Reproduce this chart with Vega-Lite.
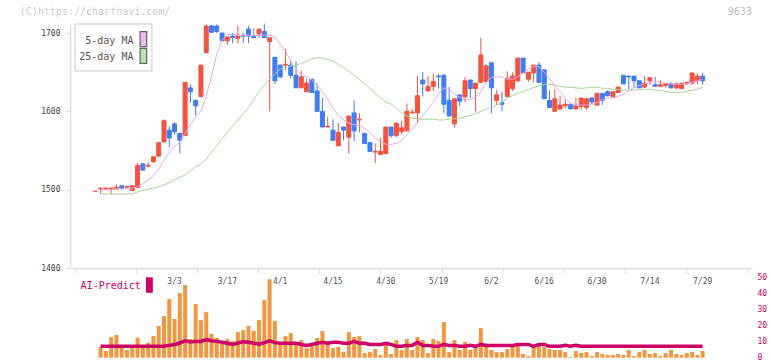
{
  "$schema": "https://vega.github.io/schema/vega-lite/v6.json",
  "width": 682,
  "height": 244,
  "autosize": {"type": "none"},
  "padding": {"left": 70, "top": 24, "right": 20, "bottom": 93},
  "background": "white",
  "config": {"view": {"stroke": null}, "font": "DejaVu Sans Mono", "axis": {"labelFont": "DejaVu Sans Mono"}},
  "datasets": {
    "candles": [
      {"k":0,"o":1498,"h":1498,"l":1498,"c":1498,"v":null,"m5":null,"m25":null,"ai":null},
      {"k":1,"o":1501,"h":1502,"l":1495,"c":1502,"v":6.7,"m5":1499,"m25":1495,"ai":7.1},
      {"k":2,"o":1501,"h":1502,"l":1499,"c":1502,"v":4.2,"m5":1500,"m25":1494.5,"ai":7.1},
      {"k":3,"o":1501,"h":1503,"l":1495,"c":1502,"v":12.9,"m5":1500,"m25":1494.5,"ai":7.1},
      {"k":4,"o":1501,"h":1507,"l":1500,"c":1503,"v":14.2,"m5":1501,"m25":1494.5,"ai":7.1},
      {"k":5,"o":1505,"h":1505,"l":1500,"c":1502,"v":6.7,"m5":1501,"m25":1494.5,"ai":7.1},
      {"k":6,"o":1503,"h":1505,"l":1503,"c":1504,"v":4.8,"m5":1502,"m25":1494.5,"ai":7.1},
      {"k":7,"o":1499,"h":1505,"l":1499,"c":1505,"v":6.7,"m5":1502,"m25":1495,"ai":7.1},
      {"k":8,"o":1503,"h":1534,"l":1502,"c":1531,"v":12.5,"m5":1504,"m25":1497,"ai":7.1},
      {"k":9,"o":1533,"h":1533,"l":1525,"c":1525,"v":6.7,"m5":1508,"m25":1499,"ai":7.1},
      {"k":10,"o":1530,"h":1535,"l":1529,"c":1531,"v":9.3,"m5":1512,"m25":1500.5,"ai":7.1},
      {"k":11,"o":1536,"h":1542,"l":1534,"c":1542,"v":13.6,"m5":1518,"m25":1502,"ai":7.1},
      {"k":12,"o":1543,"h":1560,"l":1541,"c":1560,"v":19.8,"m5":1526,"m25":1504,"ai":7.1},
      {"k":13,"o":1561,"h":1590,"l":1560,"c":1588,"v":26,"m5":1537,"m25":1506,"ai":7.1},
      {"k":14,"o":1576,"h":1581,"l":1554,"c":1566,"v":36.7,"m5":1548,"m25":1509,"ai":7.7},
      {"k":15,"o":1584,"h":1586,"l":1570,"c":1574,"v":24.2,"m5":1555,"m25":1512.5,"ai":8.3},
      {"k":16,"o":1572,"h":1572,"l":1546,"c":1563,"v":40.4,"m5":1561,"m25":1516,"ai":9.2},
      {"k":17,"o":1569,"h":1637,"l":1569,"c":1637,"v":45.4,"m5":1572,"m25":1519,"ai":10.6},
      {"k":18,"o":1630,"h":1635,"l":1611,"c":1625,"v":11.7,"m5":1583,"m25":1524,"ai":9.8},
      {"k":19,"o":1614,"h":1614,"l":1595,"c":1607,"v":33.5,"m5":1593,"m25":1529,"ai":10.2},
      {"k":20,"o":1619,"h":1659,"l":1618,"c":1659,"v":23.5,"m5":1600,"m25":1533,"ai":10.2},
      {"k":21,"o":1675,"h":1711,"l":1674,"c":1709,"v":28.5,"m5":1619,"m25":1539,"ai":11.3},
      {"k":22,"o":1709,"h":1710,"l":1700,"c":1701,"v":14.8,"m5":1645,"m25":1548,"ai":10.6},
      {"k":23,"o":1709,"h":1711,"l":1700,"c":1702,"v":12.3,"m5":1673,"m25":1556,"ai":10.2},
      {"k":24,"o":1700,"h":1700,"l":1690,"c":1690,"v":9.8,"m5":1691,"m25":1565,"ai":9.6},
      {"k":25,"o":1690,"h":1695,"l":1685,"c":1695,"v":11.7,"m5":1698,"m25":1573,"ai":9.0},
      {"k":26,"o":1696,"h":1700,"l":1687,"c":1694,"v":10.4,"m5":1698,"m25":1581,"ai":8.3},
      {"k":27,"o":1693,"h":1709,"l":1687,"c":1697,"v":16,"m5":1697,"m25":1589,"ai":9.2},
      {"k":28,"o":1697,"h":1700,"l":1687,"c":1696,"v":17.3,"m5":1697,"m25":1597,"ai":10},
      {"k":29,"o":1705,"h":1709,"l":1687,"c":1696,"v":19.8,"m5":1697,"m25":1605,"ai":9.6},
      {"k":30,"o":1696,"h":1706,"l":1694,"c":1694,"v":16.7,"m5":1697,"m25":1615,"ai":9},
      {"k":31,"o":1699,"h":1705,"l":1694,"c":1705,"v":23.5,"m5":1697,"m25":1625,"ai":8.5},
      {"k":32,"o":1702,"h":1712,"l":1694,"c":1694,"v":36,"m5":1697,"m25":1633,"ai":9.4},
      {"k":33,"o":1689,"h":1694,"l":1600,"c":1694,"v":49,"m5":1697,"m25":1641,"ai":10.6},
      {"k":34,"o":1669,"h":1669,"l":1635,"c":1639,"v":23,"m5":1695,"m25":1648,"ai":9.4},
      {"k":35,"o":1659,"h":1660,"l":1642,"c":1644,"v":8.5,"m5":1686,"m25":1654,"ai":9},
      {"k":36,"o":1659,"h":1680,"l":1653,"c":1660,"v":13.5,"m5":1677,"m25":1656,"ai":9},
      {"k":37,"o":1659,"h":1664,"l":1642,"c":1646,"v":15.4,"m5":1664,"m25":1658,"ai":9},
      {"k":38,"o":1646,"h":1664,"l":1630,"c":1630,"v":8.5,"m5":1654,"m25":1659,"ai":9},
      {"k":39,"o":1630,"h":1652,"l":1630,"c":1644,"v":11,"m5":1646,"m25":1661,"ai":8.3},
      {"k":40,"o":1625,"h":1642,"l":1625,"c":1636,"v":6,"m5":1644,"m25":1664,"ai":7.7},
      {"k":41,"o":1641,"h":1641,"l":1624,"c":1624,"v":7.9,"m5":1640,"m25":1667,"ai":8.3},
      {"k":42,"o":1626,"h":1636,"l":1600,"c":1600,"v":12.3,"m5":1633,"m25":1668.5,"ai":9},
      {"k":43,"o":1600,"h":1617,"l":1580,"c":1580,"v":16.7,"m5":1625,"m25":1668,"ai":9.6},
      {"k":44,"o":1580,"h":1593,"l":1580,"c":1581,"v":10.4,"m5":1616,"m25":1666.5,"ai":9},
      {"k":45,"o":1576,"h":1590,"l":1563,"c":1563,"v":6,"m5":1604,"m25":1664,"ai":9.6},
      {"k":46,"o":1556,"h":1585,"l":1556,"c":1573,"v":6.7,"m5":1595,"m25":1660,"ai":9.6},
      {"k":47,"o":1580,"h":1580,"l":1563,"c":1576,"v":3.5,"m5":1589,"m25":1656,"ai":9},
      {"k":48,"o":1567,"h":1594,"l":1546,"c":1594,"v":16,"m5":1585,"m25":1651,"ai":9},
      {"k":49,"o":1598,"h":1614,"l":1562,"c":1575,"v":12.9,"m5":1583,"m25":1646,"ai":10.2},
      {"k":50,"o":1589,"h":1598,"l":1573,"c":1590,"v":13.5,"m5":1582,"m25":1641,"ai":9},
      {"k":51,"o":1572,"h":1572,"l":1559,"c":1559,"v":2.9,"m5":1578,"m25":1635,"ai":9},
      {"k":52,"o":1560,"h":1560,"l":1548,"c":1549,"v":3.5,"m5":1573,"m25":1629,"ai":8.3},
      {"k":53,"o":1548,"h":1559,"l":1534,"c":1549,"v":5.4,"m5":1566,"m25":1623,"ai":8.3},
      {"k":54,"o":1545,"h":1566,"l":1545,"c":1549,"v":1.7,"m5":1561,"m25":1617,"ai":8.3},
      {"k":55,"o":1546,"h":1580,"l":1546,"c":1580,"v":9.2,"m5":1558,"m25":1612,"ai":9},
      {"k":56,"o":1580,"h":1580,"l":1566,"c":1569,"v":2.3,"m5":1558,"m25":1609,"ai":8.3},
      {"k":57,"o":1569,"h":1585,"l":1567,"c":1585,"v":11,"m5":1559,"m25":1604,"ai":7.1},
      {"k":58,"o":1574,"h":1588,"l":1571,"c":1579,"v":4.8,"m5":1563,"m25":1598,"ai":7.1},
      {"k":59,"o":1575,"h":1610,"l":1575,"c":1600,"v":11.7,"m5":1570,"m25":1594,"ai":7.7},
      {"k":60,"o":1598,"h":1603,"l":1597,"c":1599,"v":4.8,"m5":1577,"m25":1591.5,"ai":7.7},
      {"k":61,"o":1598,"h":1645,"l":1585,"c":1620,"v":12.9,"m5":1586,"m25":1590.5,"ai":9.6},
      {"k":62,"o":1640,"h":1650,"l":1619,"c":1635,"v":11,"m5":1595,"m25":1590,"ai":7.7},
      {"k":63,"o":1626,"h":1645,"l":1626,"c":1632,"v":2.9,"m5":1603,"m25":1590,"ai":7.7},
      {"k":64,"o":1632,"h":1648,"l":1626,"c":1638,"v":11.7,"m5":1612,"m25":1590,"ai":7.1},
      {"k":65,"o":1645,"h":1648,"l":1629,"c":1644,"v":10.4,"m5":1622,"m25":1589,"ai":7.1},
      {"k":66,"o":1646,"h":1648,"l":1598,"c":1609,"v":22.3,"m5":1630,"m25":1589,"ai":8.3},
      {"k":67,"o":1614,"h":1631,"l":1594,"c":1594,"v":3.5,"m5":1628,"m25":1590,"ai":7.7},
      {"k":68,"o":1584,"h":1616,"l":1579,"c":1616,"v":11,"m5":1622,"m25":1590.5,"ai":7.7},
      {"k":69,"o":1621,"h":1621,"l":1607,"c":1613,"v":4.8,"m5":1618,"m25":1591,"ai":7.1},
      {"k":70,"o":1619,"h":1644,"l":1612,"c":1639,"v":9.8,"m5":1616,"m25":1593,"ai":7.1},
      {"k":71,"o":1640,"h":1640,"l":1617,"c":1629,"v":4.8,"m5":1615,"m25":1594.5,"ai":7.7},
      {"k":72,"o":1629,"h":1636,"l":1600,"c":1636,"v":7.3,"m5":1618,"m25":1597,"ai":7.1},
      {"k":73,"o":1637,"h":1694,"l":1636,"c":1672,"v":18.5,"m5":1625,"m25":1600,"ai":8.3},
      {"k":74,"o":1638,"h":1660,"l":1636,"c":1658,"v":7.9,"m5":1637,"m25":1603,"ai":7.7},
      {"k":75,"o":1662,"h":1662,"l":1598,"c":1630,"v":4.8,"m5":1643,"m25":1605,"ai":7.7},
      {"k":76,"o":1614,"h":1627,"l":1608,"c":1621,"v":3.5,"m5":1644,"m25":1608,"ai":7.7},
      {"k":77,"o":1611,"h":1625,"l":1600,"c":1609,"v":3.5,"m5":1644,"m25":1611,"ai":7.7},
      {"k":78,"o":1619,"h":1651,"l":1619,"c":1642,"v":5.4,"m5":1641,"m25":1617,"ai":7.7},
      {"k":79,"o":1629,"h":1650,"l":1626,"c":1645,"v":8.5,"m5":1641,"m25":1620,"ai":7.7},
      {"k":80,"o":1639,"h":1668,"l":1637,"c":1668,"v":7.9,"m5":1644,"m25":1623,"ai":8.3},
      {"k":81,"o":1668,"h":1668,"l":1649,"c":1649,"v":2.3,"m5":1649,"m25":1625,"ai":8.3},
      {"k":82,"o":1641,"h":1650,"l":1638,"c":1650,"v":1,"m5":1654,"m25":1628,"ai":8.3},
      {"k":83,"o":1649,"h":1659,"l":1637,"c":1659,"v":8.5,"m5":1657,"m25":1630.5,"ai":7.1},
      {"k":84,"o":1659,"h":1663,"l":1637,"c":1637,"v":8.5,"m5":1657,"m25":1632.5,"ai":8.3},
      {"k":85,"o":1653,"h":1653,"l":1616,"c":1616,"v":6.7,"m5":1650,"m25":1634,"ai":8.3},
      {"k":86,"o":1614,"h":1627,"l":1605,"c":1605,"v":5.4,"m5":1642,"m25":1634.5,"ai":7.1},
      {"k":87,"o":1600,"h":1628,"l":1600,"c":1616,"v":4.8,"m5":1633,"m25":1633,"ai":7.1},
      {"k":88,"o":1603,"h":1620,"l":1602,"c":1608,"v":4.8,"m5":1625,"m25":1632,"ai":7.1},
      {"k":89,"o":1607,"h":1615,"l":1604,"c":1609,"v":3.5,"m5":1617,"m25":1631,"ai":7.7},
      {"k":90,"o":1609,"h":1609,"l":1603,"c":1603,"v":0.4,"m5":1610,"m25":1630.7,"ai":7.1},
      {"k":91,"o":1603,"h":1617,"l":1603,"c":1607,"v":4.2,"m5":1608,"m25":1630,"ai":7.7},
      {"k":92,"o":1606,"h":1617,"l":1602,"c":1617,"v":2.9,"m5":1608,"m25":1629.4,"ai":7.1},
      {"k":93,"o":1605,"h":1617,"l":1602,"c":1616,"v":3.5,"m5":1608,"m25":1630,"ai":7.1},
      {"k":94,"o":1617,"h":1617,"l":1609,"c":1612,"v":1,"m5":1609,"m25":1630.7,"ai":7.1},
      {"k":95,"o":1608,"h":1623,"l":1608,"c":1623,"v":3.5,"m5":1611,"m25":1630.7,"ai":7.1},
      {"k":96,"o":1623,"h":1623,"l":1608,"c":1614,"v":2.3,"m5":1615,"m25":1629.4,"ai":7.1},
      {"k":97,"o":1625,"h":1627,"l":1619,"c":1620,"v":1.7,"m5":1617,"m25":1629.4,"ai":7.1},
      {"k":98,"o":1619,"h":1625,"l":1619,"c":1625,"v":1.7,"m5":1617,"m25":1628,"ai":7.1},
      {"k":99,"o":1624,"h":1631,"l":1624,"c":1631,"v":2.3,"m5":1619,"m25":1628,"ai":7.1},
      {"k":100,"o":1646,"h":1646,"l":1635,"c":1635,"v":1.7,"m5":1622,"m25":1627,"ai":7.1},
      {"k":101,"o":1645,"h":1645,"l":1628,"c":1644,"v":4.8,"m5":1626,"m25":1627,"ai":7.1},
      {"k":102,"o":1645,"h":1645,"l":1631,"c":1639,"v":1,"m5":1630,"m25":1627,"ai":7.1},
      {"k":103,"o":1639,"h":1639,"l":1630,"c":1630,"v":3.5,"m5":1633,"m25":1628,"ai":7.1},
      {"k":104,"o":1631,"h":1645,"l":1630,"c":1636,"v":4.8,"m5":1635,"m25":1628,"ai":7.1},
      {"k":105,"o":1639,"h":1643,"l":1634,"c":1643,"v":2.3,"m5":1636,"m25":1628,"ai":7.1},
      {"k":106,"o":1634,"h":1644,"l":1632,"c":1632,"v":2.9,"m5":1638,"m25":1627,"ai":7.1},
      {"k":107,"o":1632,"h":1640,"l":1632,"c":1634,"v":1,"m5":1637,"m25":1627,"ai":7.1},
      {"k":108,"o":1633,"h":1635,"l":1630,"c":1635,"v":2.9,"m5":1636,"m25":1625.5,"ai":7.1},
      {"k":109,"o":1635,"h":1637,"l":1629,"c":1630,"v":4.8,"m5":1635,"m25":1624,"ai":7.1},
      {"k":110,"o":1630,"h":1637,"l":1628,"c":1635,"v":2.3,"m5":1634.5,"m25":1624,"ai":7.1},
      {"k":111,"o":1629,"h":1636,"l":1629,"c":1636,"v":1.7,"m5":1634.5,"m25":1624,"ai":7.1},
      {"k":112,"o":1636,"h":1638,"l":1633,"c":1637,"v":2.9,"m5":1635,"m25":1626,"ai":7.1},
      {"k":113,"o":1636,"h":1649,"l":1634,"c":1649,"v":3.5,"m5":1637,"m25":1627,"ai":7.1},
      {"k":114,"o":1639,"h":1648,"l":1635,"c":1645,"v":1.7,"m5":1639,"m25":1628,"ai":7.1},
      {"k":115,"o":1645,"h":1649,"l":1634,"c":1639,"v":4.2,"m5":1641,"m25":1631,"ai":7.1}
    ],
    "dates": [
      {"k":15,"t":"3/3"},{"k":25,"t":"3/17"},{"k":35,"t":"4/1"},{"k":45,"t":"4/15"},{"k":55,"t":"4/30"},
      {"k":65,"t":"5/19"},{"k":75,"t":"6/2"},{"k":85,"t":"6/16"},{"k":95,"t":"6/30"},{"k":105,"t":"7/14"},{"k":115,"t":"7/29"}
    ]
  },
  "data": {"name": "candles"},
  "layer": [
    {
      "layer": [
        {
          "mark": {"type": "rule", "strokeWidth": 1},
          "encoding": {
            "x": {"field": "k", "type": "quantitative", "scale": {"domain": [-3.851, 123.397], "nice": false, "zero": false},
                  "axis": {"orient": "bottom", "values": [-3.851, 7.717, 19.285, 30.853, 42.421, 53.989, 65.557, 77.125, 88.693, 100.261, 111.829, 123.397], "labels": false, "title": null, "grid": false, "domainColor": "#e0e0e0", "domainWidth": 1.5, "tickColor": "#e0e0e0", "tickWidth": 1.5, "tickSize": 5}},
            "y": {"field": "l", "type": "quantitative", "scale": {"domain": [1400, 1711.5], "nice": false, "zero": false},
                  "axis": {"orient": "left", "values": [1400, 1500, 1600, 1700], "format": "d", "title": null, "grid": false, "domainColor": "#e0e0e0", "domainWidth": 1.5, "tickColor": "#e0e0e0", "tickWidth": 1.5, "tickSize": 5, "labelFont": "DejaVu Sans Mono", "labelFontSize": 8, "labelColor": "#444444", "labelPadding": 5}},
            "y2": {"field": "h"},
            "color": {"condition": {"test": "datum.c >= datum.o", "value": "#f15340"}, "value": "#407df0"}
          }
        },
        {
          "mark": {"type": "bar", "width": 4, "strokeWidth": 1},
          "encoding": {
            "x": {"field": "k", "type": "quantitative", "scale": {"domain": [-3.851, 123.397], "nice": false, "zero": false},
                  "axis": {"orient": "bottom", "values": [-3.851, 7.717, 19.285, 30.853, 42.421, 53.989, 65.557, 77.125, 88.693, 100.261, 111.829, 123.397], "labels": false, "title": null, "grid": false, "domainColor": "#e0e0e0", "domainWidth": 1.5, "tickColor": "#e0e0e0", "tickWidth": 1.5, "tickSize": 5}},
            "y": {"field": "o", "type": "quantitative", "scale": {"domain": [1400, 1711.5], "nice": false, "zero": false},
                  "axis": {"orient": "left", "values": [1400, 1500, 1600, 1700], "format": "d", "title": null, "grid": false, "domainColor": "#e0e0e0", "domainWidth": 1.5, "tickColor": "#e0e0e0", "tickWidth": 1.5, "tickSize": 5, "labelFont": "DejaVu Sans Mono", "labelFontSize": 8, "labelColor": "#444444", "labelPadding": 5}},
            "y2": {"field": "c"},
            "fill": {"condition": {"test": "datum.c >= datum.o", "value": "#f15340"}, "value": "#407df0"},
            "stroke": {"condition": {"test": "datum.c >= datum.o", "value": "#f15340"}, "value": "#407df0"}
          }
        },
        {
          "mark": {"type": "line", "color": "#e6a8e6", "strokeWidth": 1},
          "encoding": {
            "x": {"field": "k", "type": "quantitative", "scale": {"domain": [-3.851, 123.397], "nice": false, "zero": false},
                  "axis": {"orient": "bottom", "values": [-3.851, 7.717, 19.285, 30.853, 42.421, 53.989, 65.557, 77.125, 88.693, 100.261, 111.829, 123.397], "labels": false, "title": null, "grid": false, "domainColor": "#e0e0e0", "domainWidth": 1.5, "tickColor": "#e0e0e0", "tickWidth": 1.5, "tickSize": 5}},
            "y": {"field": "m5", "type": "quantitative", "scale": {"domain": [1400, 1711.5], "nice": false, "zero": false},
                  "axis": {"orient": "left", "values": [1400, 1500, 1600, 1700], "format": "d", "title": null, "grid": false, "domainColor": "#e0e0e0", "domainWidth": 1.5, "tickColor": "#e0e0e0", "tickWidth": 1.5, "tickSize": 5, "labelFont": "DejaVu Sans Mono", "labelFontSize": 8, "labelColor": "#444444", "labelPadding": 5}}
          }
        },
        {
          "mark": {"type": "line", "color": "#a8d496", "strokeWidth": 1},
          "encoding": {
            "x": {"field": "k", "type": "quantitative", "scale": {"domain": [-3.851, 123.397], "nice": false, "zero": false},
                  "axis": {"orient": "bottom", "values": [-3.851, 7.717, 19.285, 30.853, 42.421, 53.989, 65.557, 77.125, 88.693, 100.261, 111.829, 123.397], "labels": false, "title": null, "grid": false, "domainColor": "#e0e0e0", "domainWidth": 1.5, "tickColor": "#e0e0e0", "tickWidth": 1.5, "tickSize": 5}},
            "y": {"field": "m25", "type": "quantitative", "scale": {"domain": [1400, 1711.5], "nice": false, "zero": false},
                  "axis": {"orient": "left", "values": [1400, 1500, 1600, 1700], "format": "d", "title": null, "grid": false, "domainColor": "#e0e0e0", "domainWidth": 1.5, "tickColor": "#e0e0e0", "tickWidth": 1.5, "tickSize": 5, "labelFont": "DejaVu Sans Mono", "labelFontSize": 8, "labelColor": "#444444", "labelPadding": 5}}
          }
        },
        {
          "data": {"values": [{"t": "box"}]},
          "mark": {"type": "rect", "fill": "white", "stroke": "#dddddd", "strokeWidth": 1.5},
          "encoding": {
            "x": {"datum": -3.851, "type": "quantitative", "scale": {"domain": [-3.851, 123.397], "nice": false, "zero": false},
                  "axis": {"orient": "bottom", "values": [-3.851, 7.717, 19.285, 30.853, 42.421, 53.989, 65.557, 77.125, 88.693, 100.261, 111.829, 123.397], "labels": false, "title": null, "grid": false, "domainColor": "#e0e0e0", "domainWidth": 1.5, "tickColor": "#e0e0e0", "tickWidth": 1.5, "tickSize": 5}},
            "x2": {"datum": 10.702},
            "y": {"datum": 1711.5, "type": "quantitative", "scale": {"domain": [1400, 1711.5], "nice": false, "zero": false},
                  "axis": {"orient": "left", "values": [1400, 1500, 1600, 1700], "format": "d", "title": null, "grid": false, "domainColor": "#e0e0e0", "domainWidth": 1.5, "tickColor": "#e0e0e0", "tickWidth": 1.5, "tickSize": 5, "labelFont": "DejaVu Sans Mono", "labelFontSize": 8, "labelColor": "#444444", "labelPadding": 5}},
            "y2": {"datum": 1651.5}
          }
        },
        {
          "data": {"values": [{"t": "5-day MA"}]},
          "mark": {"type": "text", "align": "right", "baseline": "middle", "font": "DejaVu Sans Mono", "fontSize": 10, "color": "#555555"},
          "encoding": {
            "x": {"datum": 7.213, "type": "quantitative", "scale": {"domain": [-3.851, 123.397], "nice": false, "zero": false},
                  "axis": {"orient": "bottom", "values": [-3.851, 7.717, 19.285, 30.853, 42.421, 53.989, 65.557, 77.125, 88.693, 100.261, 111.829, 123.397], "labels": false, "title": null, "grid": false, "domainColor": "#e0e0e0", "domainWidth": 1.5, "tickColor": "#e0e0e0", "tickWidth": 1.5, "tickSize": 5}},
            "y": {"datum": 1690.2, "type": "quantitative", "scale": {"domain": [1400, 1711.5], "nice": false, "zero": false},
                  "axis": {"orient": "left", "values": [1400, 1500, 1600, 1700], "format": "d", "title": null, "grid": false, "domainColor": "#e0e0e0", "domainWidth": 1.5, "tickColor": "#e0e0e0", "tickWidth": 1.5, "tickSize": 5, "labelFont": "DejaVu Sans Mono", "labelFontSize": 8, "labelColor": "#444444", "labelPadding": 5}},
            "text": {"field": "t"}
          }
        },
        {
          "data": {"values": [{"t": "25-day MA"}]},
          "mark": {"type": "text", "align": "right", "baseline": "middle", "font": "DejaVu Sans Mono", "fontSize": 10, "color": "#555555"},
          "encoding": {
            "x": {"datum": 7.213, "type": "quantitative", "scale": {"domain": [-3.851, 123.397], "nice": false, "zero": false},
                  "axis": {"orient": "bottom", "values": [-3.851, 7.717, 19.285, 30.853, 42.421, 53.989, 65.557, 77.125, 88.693, 100.261, 111.829, 123.397], "labels": false, "title": null, "grid": false, "domainColor": "#e0e0e0", "domainWidth": 1.5, "tickColor": "#e0e0e0", "tickWidth": 1.5, "tickSize": 5}},
            "y": {"datum": 1669.0, "type": "quantitative", "scale": {"domain": [1400, 1711.5], "nice": false, "zero": false},
                  "axis": {"orient": "left", "values": [1400, 1500, 1600, 1700], "format": "d", "title": null, "grid": false, "domainColor": "#e0e0e0", "domainWidth": 1.5, "tickColor": "#e0e0e0", "tickWidth": 1.5, "tickSize": 5, "labelFont": "DejaVu Sans Mono", "labelFontSize": 8, "labelColor": "#444444", "labelPadding": 5}},
            "text": {"field": "t"}
          }
        },
        {
          "data": {"values": [{"t": "5-day MA"}]},
          "mark": {"type": "rect", "fill": "#ecbcec", "stroke": "#666666", "strokeWidth": 1.2},
          "encoding": {
            "x": {"datum": 8.463, "type": "quantitative", "scale": {"domain": [-3.851, 123.397], "nice": false, "zero": false},
                  "axis": {"orient": "bottom", "values": [-3.851, 7.717, 19.285, 30.853, 42.421, 53.989, 65.557, 77.125, 88.693, 100.261, 111.829, 123.397], "labels": false, "title": null, "grid": false, "domainColor": "#e0e0e0", "domainWidth": 1.5, "tickColor": "#e0e0e0", "tickWidth": 1.5, "tickSize": 5}},
            "x2": {"datum": 9.713},
            "y": {"datum": 1701.7, "type": "quantitative", "scale": {"domain": [1400, 1711.5], "nice": false, "zero": false},
                  "axis": {"orient": "left", "values": [1400, 1500, 1600, 1700], "format": "d", "title": null, "grid": false, "domainColor": "#e0e0e0", "domainWidth": 1.5, "tickColor": "#e0e0e0", "tickWidth": 1.5, "tickSize": 5, "labelFont": "DejaVu Sans Mono", "labelFontSize": 8, "labelColor": "#444444", "labelPadding": 5}},
            "y2": {"datum": 1682.5}
          }
        },
        {
          "data": {"values": [{"t": "25-day MA"}]},
          "mark": {"type": "rect", "fill": "#bce0b0", "stroke": "#666666", "strokeWidth": 1.2},
          "encoding": {
            "x": {"datum": 8.463, "type": "quantitative", "scale": {"domain": [-3.851, 123.397], "nice": false, "zero": false},
                  "axis": {"orient": "bottom", "values": [-3.851, 7.717, 19.285, 30.853, 42.421, 53.989, 65.557, 77.125, 88.693, 100.261, 111.829, 123.397], "labels": false, "title": null, "grid": false, "domainColor": "#e0e0e0", "domainWidth": 1.5, "tickColor": "#e0e0e0", "tickWidth": 1.5, "tickSize": 5}},
            "x2": {"datum": 9.713},
            "y": {"datum": 1680.5, "type": "quantitative", "scale": {"domain": [1400, 1711.5], "nice": false, "zero": false},
                  "axis": {"orient": "left", "values": [1400, 1500, 1600, 1700], "format": "d", "title": null, "grid": false, "domainColor": "#e0e0e0", "domainWidth": 1.5, "tickColor": "#e0e0e0", "tickWidth": 1.5, "tickSize": 5, "labelFont": "DejaVu Sans Mono", "labelFontSize": 8, "labelColor": "#444444", "labelPadding": 5}},
            "y2": {"datum": 1661.3}
          }
        },
        {
          "data": {"values": [{"t": "(C)https://chartnavi.com/"}]},
          "mark": {"type": "text", "align": "left", "baseline": "middle", "font": "DejaVu Sans Mono", "fontSize": 10, "color": "#cccccc"},
          "encoding": {
            "x": {"datum": -14.3, "type": "quantitative", "scale": {"domain": [-3.851, 123.397], "nice": false, "zero": false},
                  "axis": {"orient": "bottom", "values": [-3.851, 7.717, 19.285, 30.853, 42.421, 53.989, 65.557, 77.125, 88.693, 100.261, 111.829, 123.397], "labels": false, "title": null, "grid": false, "domainColor": "#e0e0e0", "domainWidth": 1.5, "tickColor": "#e0e0e0", "tickWidth": 1.5, "tickSize": 5}},
            "y": {"datum": 1726.2, "type": "quantitative", "scale": {"domain": [1400, 1711.5], "nice": false, "zero": false},
                  "axis": {"orient": "left", "values": [1400, 1500, 1600, 1700], "format": "d", "title": null, "grid": false, "domainColor": "#e0e0e0", "domainWidth": 1.5, "tickColor": "#e0e0e0", "tickWidth": 1.5, "tickSize": 5, "labelFont": "DejaVu Sans Mono", "labelFontSize": 8, "labelColor": "#444444", "labelPadding": 5}},
            "text": {"field": "t"}
          }
        },
        {
          "data": {"values": [{"t": "9633"}]},
          "mark": {"type": "text", "align": "right", "baseline": "middle", "font": "DejaVu Sans Mono", "fontSize": 10, "color": "#bbbbbb"},
          "encoding": {
            "x": {"datum": 124.33, "type": "quantitative", "scale": {"domain": [-3.851, 123.397], "nice": false, "zero": false},
                  "axis": {"orient": "bottom", "values": [-3.851, 7.717, 19.285, 30.853, 42.421, 53.989, 65.557, 77.125, 88.693, 100.261, 111.829, 123.397], "labels": false, "title": null, "grid": false, "domainColor": "#e0e0e0", "domainWidth": 1.5, "tickColor": "#e0e0e0", "tickWidth": 1.5, "tickSize": 5}},
            "y": {"datum": 1726.2, "type": "quantitative", "scale": {"domain": [1400, 1711.5], "nice": false, "zero": false},
                  "axis": {"orient": "left", "values": [1400, 1500, 1600, 1700], "format": "d", "title": null, "grid": false, "domainColor": "#e0e0e0", "domainWidth": 1.5, "tickColor": "#e0e0e0", "tickWidth": 1.5, "tickSize": 5, "labelFont": "DejaVu Sans Mono", "labelFontSize": 8, "labelColor": "#444444", "labelPadding": 5}},
            "text": {"field": "t"}
          }
        }
      ]
    },
    {
      "layer": [
        {
          "mark": {"type": "bar", "width": 4, "color": "#f29640"},
          "encoding": {
            "x": {"field": "k", "type": "quantitative", "scale": {"domain": [-3.851, 123.397], "nice": false, "zero": false},
                  "axis": {"orient": "bottom", "values": [-3.851, 7.717, 19.285, 30.853, 42.421, 53.989, 65.557, 77.125, 88.693, 100.261, 111.829, 123.397], "labels": false, "title": null, "grid": false, "domainColor": "#e0e0e0", "domainWidth": 1.5, "tickColor": "#e0e0e0", "tickWidth": 1.5, "tickSize": 5}},
            "y": {"field": "v", "type": "quantitative", "scale": {"domain": [0, 50], "range": [333.7, 253.7], "nice": false, "zero": false},
                  "axis": {"orient": "right", "values": [0, 10, 20, 30, 40, 50], "title": null, "grid": false, "domain": false, "ticks": false, "tickSize": 0, "labelFont": "DejaVu Sans Mono", "labelFontSize": 8, "labelColor": "#cc0066", "labelPadding": 5}},
            "y2": {"datum": 0}
          }
        },
        {
          "mark": {"type": "line", "color": "#cc0066", "strokeWidth": 3.5},
          "encoding": {
            "x": {"field": "k", "type": "quantitative", "scale": {"domain": [-3.851, 123.397], "nice": false, "zero": false},
                  "axis": {"orient": "bottom", "values": [-3.851, 7.717, 19.285, 30.853, 42.421, 53.989, 65.557, 77.125, 88.693, 100.261, 111.829, 123.397], "labels": false, "title": null, "grid": false, "domainColor": "#e0e0e0", "domainWidth": 1.5, "tickColor": "#e0e0e0", "tickWidth": 1.5, "tickSize": 5}},
            "y": {"field": "ai", "type": "quantitative", "scale": {"domain": [0, 50], "range": [333.7, 253.7], "nice": false, "zero": false},
                  "axis": {"orient": "right", "values": [0, 10, 20, 30, 40, 50], "title": null, "grid": false, "domain": false, "ticks": false, "tickSize": 0, "labelFont": "DejaVu Sans Mono", "labelFontSize": 8, "labelColor": "#cc0066", "labelPadding": 5}}
          }
        },
        {
          "data": {"name": "dates"},
          "mark": {"type": "text", "align": "center", "baseline": "middle", "font": "DejaVu Sans Mono", "fontSize": 8, "color": "#555555"},
          "encoding": {
            "x": {"field": "k", "type": "quantitative", "scale": {"domain": [-3.851, 123.397], "nice": false, "zero": false},
                  "axis": {"orient": "bottom", "values": [-3.851, 7.717, 19.285, 30.853, 42.421, 53.989, 65.557, 77.125, 88.693, 100.261, 111.829, 123.397], "labels": false, "title": null, "grid": false, "domainColor": "#e0e0e0", "domainWidth": 1.5, "tickColor": "#e0e0e0", "tickWidth": 1.5, "tickSize": 5}},
            "y": {"datum": 47.3, "type": "quantitative", "scale": {"domain": [0, 50], "range": [333.7, 253.7], "nice": false, "zero": false},
                  "axis": {"orient": "right", "values": [0, 10, 20, 30, 40, 50], "title": null, "grid": false, "domain": false, "ticks": false, "tickSize": 0, "labelFont": "DejaVu Sans Mono", "labelFontSize": 8, "labelColor": "#cc0066", "labelPadding": 5}},
            "text": {"field": "t"}
          }
        },
        {
          "data": {"values": [{"t": "AI-Predict"}]},
          "mark": {"type": "text", "align": "left", "baseline": "middle", "font": "DejaVu Sans Mono", "fontSize": 10, "color": "#cc0066"},
          "encoding": {
            "x": {"datum": -2.787, "type": "quantitative", "scale": {"domain": [-3.851, 123.397], "nice": false, "zero": false},
                  "axis": {"orient": "bottom", "values": [-3.851, 7.717, 19.285, 30.853, 42.421, 53.989, 65.557, 77.125, 88.693, 100.261, 111.829, 123.397], "labels": false, "title": null, "grid": false, "domainColor": "#e0e0e0", "domainWidth": 1.5, "tickColor": "#e0e0e0", "tickWidth": 1.5, "tickSize": 5}},
            "y": {"datum": 44.9, "type": "quantitative", "scale": {"domain": [0, 50], "range": [333.7, 253.7], "nice": false, "zero": false},
                  "axis": {"orient": "right", "values": [0, 10, 20, 30, 40, 50], "title": null, "grid": false, "domain": false, "ticks": false, "tickSize": 0, "labelFont": "DejaVu Sans Mono", "labelFontSize": 8, "labelColor": "#cc0066", "labelPadding": 5}},
            "text": {"field": "t"}
          }
        },
        {
          "data": {"values": [{"t": "AI-Predict"}]},
          "mark": {"type": "rect", "fill": "#cc0066"},
          "encoding": {
            "x": {"datum": 9.583, "type": "quantitative", "scale": {"domain": [-3.851, 123.397], "nice": false, "zero": false},
                  "axis": {"orient": "bottom", "values": [-3.851, 7.717, 19.285, 30.853, 42.421, 53.989, 65.557, 77.125, 88.693, 100.261, 111.829, 123.397], "labels": false, "title": null, "grid": false, "domainColor": "#e0e0e0", "domainWidth": 1.5, "tickColor": "#e0e0e0", "tickWidth": 1.5, "tickSize": 5}},
            "x2": {"datum": 10.889},
            "y": {"datum": 50.25, "type": "quantitative", "scale": {"domain": [0, 50], "range": [333.7, 253.7], "nice": false, "zero": false},
                  "axis": {"orient": "right", "values": [0, 10, 20, 30, 40, 50], "title": null, "grid": false, "domain": false, "ticks": false, "tickSize": 0, "labelFont": "DejaVu Sans Mono", "labelFontSize": 8, "labelColor": "#cc0066", "labelPadding": 5}},
            "y2": {"datum": 40.6}
          }
        }
      ]
    }
  ],
  "resolve": {"scale": {"y": "independent"}, "axis": {"y": "independent"}}
}
